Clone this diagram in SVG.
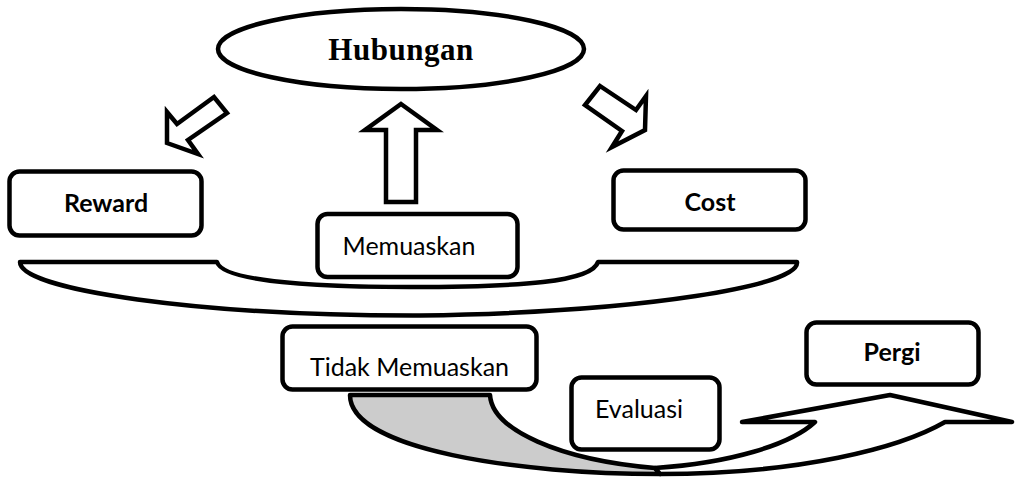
<svg xmlns="http://www.w3.org/2000/svg" width="1019" height="477" viewBox="0 0 1019 477">
<style>
.ln{fill:#fff;stroke:#000;stroke-width:4.5;stroke-linejoin:round}
.arr{fill:#fff;stroke:#000;stroke-width:4.5;stroke-linejoin:miter;stroke-miterlimit:10}
.box{fill:#fff;stroke:#000;stroke-width:4.5}
.t{font-family:Lato,"Liberation Sans",sans-serif;font-size:25px;fill:#000;text-anchor:middle}
.b{font-weight:bold}
.title{font-family:"Liberation Serif","Times New Roman",serif;font-size:31px;font-weight:bold;fill:#000;text-anchor:middle;letter-spacing:0.5px}
</style>
<rect width="1019" height="477" fill="#fff"/>
<g id="connectors">
  <polygon class="arr" points="214,97 177,124 167,112 167,143 198,154 188,140 227,113"/>
  <polygon class="arr" points="401,104 437,130 416,130 416,202 386,202 386,130 365,130"/>
  <polygon class="arr" points="600,86 636,110 646,96 645,130 612,147 622,131 585,105"/>
  <path class="ln" d="M20,262 H217 C222,280 300,287 410,287 C520,287 592,282 598,262 H797 C800,285 650,312 420,315.5 C200,316 20,290 20,262 Z"/>
  <path class="ln" style="fill:#cccccc" d="M350,395 L490,395 C492,430 560,460 655,468 L660,474 C520,474 350,450 350,395 Z"/>
  <path class="ln" d="M655,468 C730,463 790,445 815,422 L742,422 L890,395 L1012,422 L945,422 C900,448 800,474 660,474 Z"/>
</g>
<g id="hubungan">
  <ellipse class="box" cx="401" cy="49" rx="183" ry="40"/>
  <text class="title" x="401" y="60">Hubungan</text>
</g>
<g id="reward">
  <rect class="box" x="9.5" y="171.5" width="192" height="64" rx="10"/>
  <text class="t b" x="106" y="212">Reward</text>
</g>
<g id="cost">
  <rect class="box" x="613.5" y="170.5" width="192" height="59" rx="10"/>
  <text class="t b" x="710" y="211">Cost</text>
</g>
<g id="memuaskan">
  <rect class="box" x="317.5" y="214" width="200" height="63" rx="10"/>
  <text class="t" x="409" y="255">Memuaskan</text>
</g>
<g id="tidak-memuaskan">
  <rect class="box" x="282.5" y="326.5" width="254" height="63" rx="10"/>
  <text class="t" x="409.5" y="376">Tidak Memuaskan</text>
</g>
<g id="pergi">
  <rect class="box" x="806.5" y="322.5" width="172" height="62" rx="10"/>
  <text class="t b" x="892" y="361">Pergi</text>
</g>
<g id="evaluasi">
  <rect class="box" x="571.5" y="377.5" width="148" height="72" rx="10"/>
  <text class="t" x="639" y="418">Evaluasi</text>
</g>
</svg>
